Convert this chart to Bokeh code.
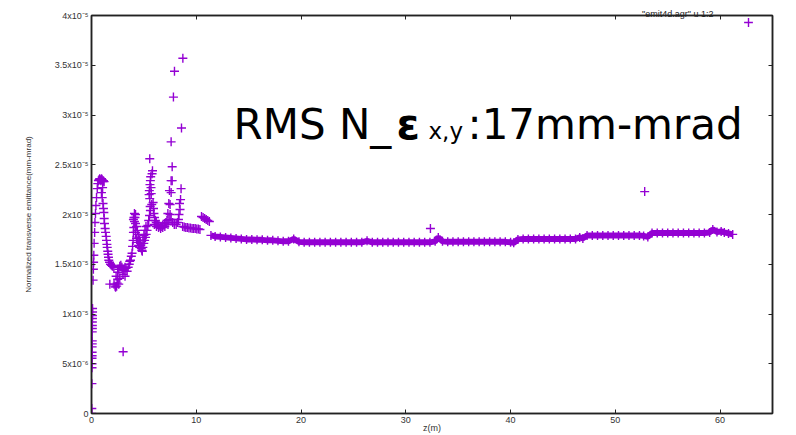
from bokeh.plotting import figure
from bokeh.models import Range1d, LinearAxis, FixedTicker, Label, CustomJSTickFormatter, Legend, LegendItem
from bokeh.embed import file_html
from bokeh.resources import INLINE

# ---------------- data (emittance in units of 1e-5 mm-mrad) ----------------
x_ticks = [0, 10, 20, 30, 40, 50, 60]
y_ticks = [0.0, 0.5, 1.0, 1.5, 2.0, 2.5, 3.0, 3.5, 4.0]
y_tick_labels = ["0", "5x10\u207b\u2076", "1x10\u207b\u2075", "1.5x10\u207b\u2075", "2x10\u207b\u2075",
                 "2.5x10\u207b\u2075", "3x10\u207b\u2075", "3.5x10\u207b\u2075", "4x10\u207b\u2075"]

# column at the entrance
z_col0 = [0.02, 0.03, 0.04, 0.05, 0.05, 0.05, 0.06, 0.06, 0.06, 0.07, 0.07, 0.07, 0.08, 0.08, 0.08, 0.09, 0.09, 0.10, 0.10]
e_col0 = [0.00, 0.05, 0.30, 0.46, 0.50, 0.555, 0.58, 0.615, 0.67, 0.70, 0.73, 0.82, 0.855, 0.885, 0.92, 0.955, 0.985, 1.02, 1.055]

# first peak
z_peak1 = [0.15, 0.18, 0.20, 0.22, 0.25, 0.30, 0.33, 0.38, 0.42, 0.48, 0.55, 0.60, 0.66, 0.72, 0.78, 0.84, 0.90, 0.96, 1.02, 1.08, 1.14, 1.20,
           0.95, 1.02, 1.06, 1.10, 1.14, 1.18, 1.21, 1.24, 1.30, 1.34, 1.40, 1.43, 1.47, 1.50, 1.55, 1.58, 1.62, 1.65, 1.72, 1.81, 1.90, 2.00, 2.13]
e_peak1 = [1.34, 1.45, 1.52, 1.59, 1.71, 1.82, 1.92, 2.01, 2.09, 2.17, 2.26, 2.31, 2.34, 2.35, 2.36, 2.35, 2.34, 2.36, 2.35, 2.33, 2.34, 2.33,
           2.22, 2.17, 2.27, 2.11, 2.06, 2.02, 1.96, 1.91, 1.86, 1.82, 1.78, 1.74, 1.70, 1.67, 1.63, 1.60, 1.57, 1.54, 1.52, 1.50, 1.49, 1.48, 1.47]

# first valley
z_valley = [1.75, 2.15, 2.25, 2.30, 2.40, 2.45, 2.50, 2.35, 2.50, 2.60, 2.70, 2.80, 2.90, 3.00, 3.10, 3.20, 3.30, 3.40, 3.50, 3.60,
            3.00, 3.20, 2.70, 2.60, 3.65]
e_valley = [1.30, 1.30, 1.28, 1.27, 1.28, 1.31, 1.35, 1.38, 1.42, 1.45, 1.48, 1.49, 1.47, 1.45, 1.44, 1.47, 1.46, 1.43, 1.47, 1.50,
            1.40, 1.38, 1.36, 1.30, 1.53]

# second and third peaks
z_peak2 = [3.72, 3.80, 3.87, 3.92, 3.97, 4.00, 4.04, 4.05, 4.10, 4.20, 4.00, 4.15,
           4.10, 4.20, 4.30, 4.37, 4.45, 4.52, 4.60, 4.68, 4.75, 4.80, 4.85, 4.20, 4.30, 4.40, 4.50, 4.60, 4.70,
           4.90, 4.99, 5.07, 5.15, 5.22, 5.30, 5.38, 5.46, 5.54, 5.62, 4.90, 5.00, 5.10, 5.20,
           5.50, 5.52, 5.56, 5.58, 5.62, 5.65, 5.68, 5.70, 5.75, 5.60, 5.78, 5.82, 5.56]
e_peak2 = [1.54, 1.58, 1.61, 1.68, 1.74, 1.82, 1.87, 1.97, 2.01, 2.00, 1.95, 1.97,
           1.93, 1.91, 1.88, 1.84, 1.80, 1.77, 1.74, 1.71, 1.66, 1.64, 1.63, 1.82, 1.76, 1.72, 1.69, 1.67, 1.69,
           1.67, 1.71, 1.74, 1.77, 1.80, 1.84, 1.89, 1.94, 1.99, 2.04, 1.74, 1.79, 1.84, 1.88,
           2.20, 2.24, 2.16, 2.30, 2.34, 2.38, 2.27, 2.21, 2.10, 2.08, 2.41, 2.44, 2.56]

z_peak3 = [5.88, 5.92, 5.96, 6.02, 6.10, 6.18, 6.30, 6.43, 6.55, 6.65, 6.80, 6.97, 7.10, 7.20,
           6.00, 6.20, 6.40, 6.60, 6.80, 7.00, 7.30,
           7.29, 7.38, 7.44, 7.50, 7.60, 7.60, 7.70, 7.60, 7.82, 7.92, 8.72, 8.59, 8.55, 8.40, 8.35,
           7.50, 7.60, 7.75, 7.90, 8.08, 8.20, 8.30, 8.45, 8.50, 7.40, 7.70]
e_peak3 = [2.12, 2.06, 2.01, 1.97, 1.94, 1.92, 1.90, 1.89, 1.88, 1.88, 1.89, 1.91, 1.92, 1.94,
           1.90, 1.88, 1.87, 1.86, 1.87, 1.88, 1.90,
           2.01, 2.11, 2.24, 2.10, 2.22, 2.34, 2.48, 2.73, 3.18, 3.44, 3.57, 2.87, 2.26, 2.11, 2.00,
           2.00, 1.95, 1.92, 1.90, 1.90, 1.92, 1.95, 2.05, 2.15, 1.95, 2.34]

# plateau and step
z_plateau = [8.70, 8.85, 9.00, 9.15, 9.30, 9.45, 9.60, 9.75, 9.90, 10.05, 10.20, 10.35,
             10.50, 10.65, 10.80, 10.95, 11.10, 11.25]
e_plateau = [1.88, 1.875, 1.87, 1.87, 1.865, 1.865, 1.86, 1.86, 1.86, 1.855, 1.855, 1.85,
             1.98, 1.97, 1.96, 1.95, 1.94, 1.93]

# long transport line
z_band = [11.4, 11.8, 12.3, 12.8, 13.3, 13.8, 14.3, 14.8, 15.3, 15.8, 16.3, 16.8, 17.3, 17.8, 18.3, 18.8,
          19.3, 19.8, 20.3, 20.8, 21.3, 21.8, 22.3, 22.8, 23.3, 23.8, 24.3, 24.8, 25.3, 25.8,
          26.3, 26.8, 27.3, 27.8, 28.3, 28.8, 29.3, 29.8, 30.3, 30.8, 31.3, 31.8, 32.3, 32.8,
          33.1, 33.5, 34.0, 34.5, 35.0, 35.5, 36.0, 36.5, 37.0, 37.5, 38.0, 38.5, 39.0, 39.5, 40.0, 40.3,
          40.7, 41.2, 41.7, 42.2, 42.7, 43.2, 43.7, 44.2, 44.7, 45.2, 45.7, 46.2, 46.6, 46.9,
          47.3, 47.8, 48.3, 48.8, 49.3, 49.8, 50.3, 50.8, 51.3, 51.8, 52.3, 52.7, 53.1,
          53.5, 54.0, 54.5, 55.0, 55.5, 56.0, 56.5, 57.0, 57.5, 58.0, 58.5, 59.0, 59.3, 59.7, 60.1, 60.4, 60.8, 61.2]
e_band = [1.79, 1.78, 1.775, 1.77, 1.765, 1.76, 1.755, 1.75, 1.75, 1.745, 1.745, 1.74, 1.74, 1.735, 1.73, 1.73,
          1.755, 1.725, 1.72, 1.72, 1.72, 1.72, 1.72, 1.72, 1.72, 1.72, 1.72, 1.72, 1.72, 1.72,
          1.735, 1.72, 1.72, 1.72, 1.72, 1.72, 1.72, 1.72, 1.72, 1.72, 1.72, 1.72, 1.72, 1.73,
          1.77, 1.73, 1.725, 1.725, 1.725, 1.725, 1.725, 1.725, 1.725, 1.725, 1.725, 1.725, 1.725, 1.725, 1.72, 1.715,
          1.75, 1.755, 1.755, 1.755, 1.755, 1.755, 1.755, 1.755, 1.755, 1.755, 1.755, 1.755, 1.77, 1.76,
          1.79, 1.79, 1.79, 1.79, 1.79, 1.79, 1.79, 1.79, 1.79, 1.79, 1.79, 1.785, 1.775,
          1.815, 1.815, 1.815, 1.815, 1.815, 1.815, 1.815, 1.815, 1.815, 1.815, 1.815, 1.82, 1.85, 1.825, 1.83, 1.82, 1.81, 1.80]

# isolated points
z_out = [3.02, 32.35, 52.8]
e_out = [0.62, 1.86, 2.23]

assert len(z_band) == len(e_band)
for a, b in [(z_col0, e_col0), (z_peak1, e_peak1), (z_valley, e_valley), (z_peak2, e_peak2),
             (z_peak3, e_peak3), (z_plateau, e_plateau), (z_out, e_out)]:
    assert len(a) == len(b)

# ---------------- styling ----------------
PURPLE = "#9400d3"
AXIS = "#222222"
TICKFONT = "Liberation Sans"
W, H = 796, 435
FL, FR, FT, FB = 91, 772, 15, 413  # frame edges in page pixels
X0, X1, Y0, Y1 = 0.0, 65.0, 0.0, 4.0

p = figure(width=W, height=H, output_backend="svg", toolbar_location=None,
           x_range=Range1d(X0, X1), y_range=Range1d(Y0, Y1),
           min_border_left=FL, min_border_right=W - FR, min_border_top=FT, min_border_bottom=H - FB,
           background_fill_color="white", border_fill_color="white")
p.xgrid.visible = False
p.ygrid.visible = False
p.outline_line_color = AXIS
p.outline_line_width = 1.5

# gnuplot key text, drawn as the (right-aligned) title just above the frame
p.title.text = "\"emit4d.agr\" u 1:2"
p.title.align = "right"
p.title.offset = FR - 713
p.title.standoff = -7
p.title.text_font = TICKFONT
p.title.text_font_size = "9px"
p.title.text_font_style = "normal"
p.title.text_color = "#222222"

def style_axis(ax, ticks, show_labels):
    ax.ticker = FixedTicker(ticks=ticks)
    ax.major_tick_in = 4
    ax.major_tick_out = 0
    ax.major_tick_line_color = AXIS
    ax.major_tick_line_width = 1
    ax.minor_tick_line_color = None
    ax.axis_line_color = AXIS
    ax.axis_line_width = 1.5
    ax.major_label_text_font = TICKFONT
    ax.major_label_text_color = "#333333"
    ax.major_label_text_font_size = "9px"
    if show_labels:
        ax.major_label_standoff = 3
    else:
        ax.formatter = CustomJSTickFormatter(code="return ''")
        ax.major_label_standoff = 0

xa = p.xaxis[0]
style_axis(xa, x_ticks, True)
xa.major_label_standoff = 3
xa.axis_label = "z(m)"
xa.axis_label_text_font = TICKFONT
xa.axis_label_text_font_size = "9px"
xa.axis_label_text_font_style = "normal"
xa.axis_label_text_color = "#333333"
xa.axis_label_standoff = -3

ya = p.yaxis[0]
style_axis(ya, y_ticks, True)
ya.major_label_overrides = {t: s for t, s in zip(y_ticks, y_tick_labels)}
ya.axis_label = "Normalized transverse emittance(mm-mrad)"
ya.axis_label_text_font = TICKFONT
ya.axis_label_text_font_size = "8px"
ya.axis_label_text_font_style = "normal"
ya.axis_label_text_color = "#333333"
ya.axis_label_standoff = 19

top = LinearAxis()
style_axis(top, x_ticks, False)
p.add_layout(top, "above")
right = LinearAxis()
style_axis(right, y_ticks, False)
p.add_layout(right, "right")

# ---------------- marks ----------------
p.line(z_band, e_band, line_color=PURPLE, line_width=6)
renderers = []
for zs, es in [(z_col0, e_col0), (z_peak1, e_peak1), (z_valley, e_valley), (z_peak2, e_peak2),
               (z_peak3, e_peak3), (z_plateau, e_plateau), (z_band, e_band), (z_out, e_out)]:
    renderers.append(p.scatter(zs, es, marker="cross", size=9, line_color=PURPLE, line_width=1.4))

# key sample (glyph only; its text is the title above)
GW = 22
key = Legend(items=[LegendItem(label=" ", renderers=[renderers[-1]])],
             location=(748 - GW / 2 - FL, FB - 22 - GW / 2),
             padding=0, margin=0, spacing=0, glyph_width=GW, glyph_height=GW,
             label_width=0, label_height=GW, label_standoff=0,
             label_text_font_size="1px", border_line_color=None, background_fill_alpha=0)
p.add_layout(key, "center")

# ---------------- big annotation inside the frame, placed by page pixel -> data conversion ----------------
def px2x(X):
    return X0 + (X - FL) * (X1 - X0) / (FR - FL)

def px2y(Y):
    return Y0 + (FB - Y) * (Y1 - Y0) / (FB - FT)

def lab(text, X, Y, size, color="black", font="DejaVu Sans", style="normal", align="left", baseline="alphabetic"):
    p.add_layout(Label(x=px2x(X), y=px2y(Y), text=text,
                       text_font=font, text_font_size=size, text_font_style=style, text_color=color,
                       text_align=align, text_baseline=baseline))

lab("RMS N_", 233, 124, "42px")
lab("\u03b5", 396, 124, "42px", style="bold")
lab("x,y", 428, 130, "23px")
lab(":17mm-mrad", 467, 124, "42px")

open("out.html", "w").write(file_html(p, INLINE))
